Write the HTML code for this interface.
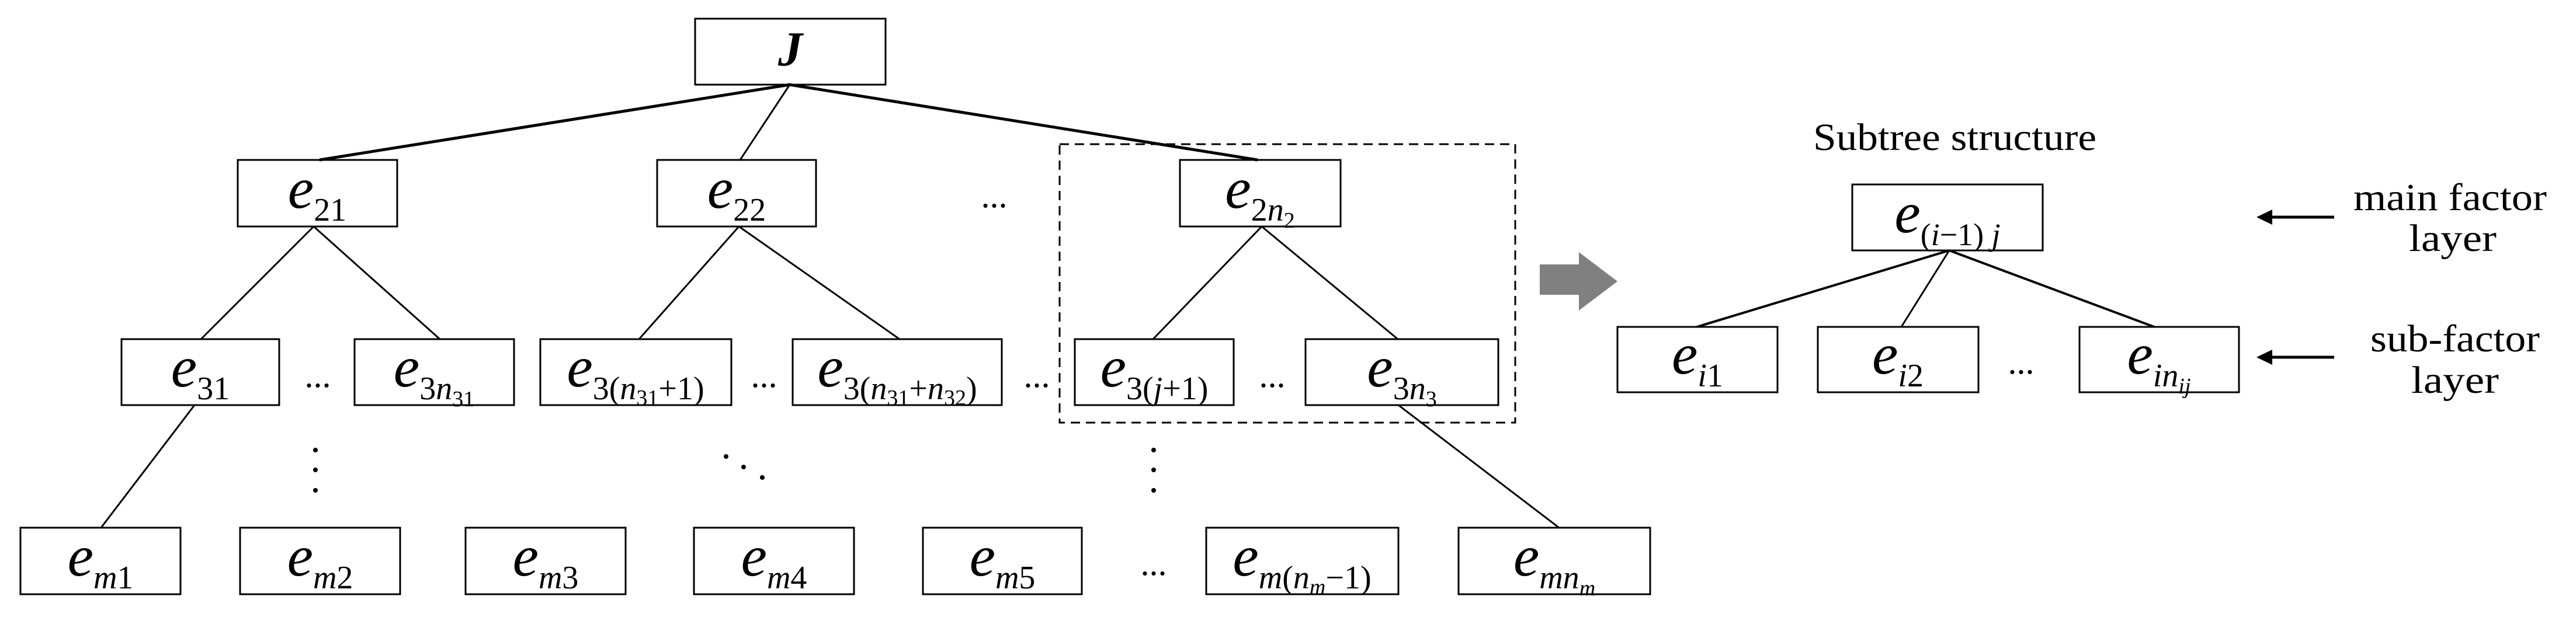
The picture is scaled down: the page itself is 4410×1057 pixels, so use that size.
<!DOCTYPE html>
<html><head><meta charset="utf-8"><style>
html,body{margin:0;padding:0;background:#fff;}
svg{display:block;}
text{font-family:"Liberation Serif",serif;fill:#000;}
.i{font-style:italic;}
</style></head><body>
<svg width="4410" height="1057" viewBox="0 0 4410 1057" xmlns="http://www.w3.org/2000/svg">
<g fill="none" stroke="#000" stroke-width="3">
<rect x="1190" y="32" width="326" height="113"/>
<rect x="407" y="274" width="273" height="114"/>
<rect x="1125" y="274" width="272" height="114"/>
<rect x="2020" y="274" width="275" height="114"/>
<rect x="208" y="581" width="270" height="113"/>
<rect x="607" y="581" width="273" height="113"/>
<rect x="925" y="581" width="327" height="113"/>
<rect x="1357" y="581" width="358" height="113"/>
<rect x="1840" y="581" width="272" height="113"/>
<rect x="2235" y="581" width="330" height="113"/>
<rect x="35" y="904" width="274" height="114"/>
<rect x="411" y="904" width="274" height="114"/>
<rect x="797" y="904" width="274" height="114"/>
<rect x="1188" y="904" width="274" height="114"/>
<rect x="1580" y="904" width="272" height="114"/>
<rect x="2065" y="904" width="329" height="114"/>
<rect x="2497" y="904" width="328" height="114"/>
<rect x="3171" y="316" width="326" height="113"/>
<rect x="2769" y="560" width="274" height="112"/>
<rect x="3112" y="560" width="275" height="112"/>
<rect x="3560" y="560" width="273" height="112"/>
<rect x="1814" y="247" width="780" height="477" stroke-dasharray="16,10"/>
<line x1="1352" y1="145" x2="547" y2="274" stroke-width="5"/>
<line x1="1352" y1="145" x2="1267" y2="274"/>
<line x1="1352" y1="145" x2="2153" y2="274" stroke-width="5"/>
<line x1="537" y1="388" x2="344" y2="581"/>
<line x1="537" y1="388" x2="753" y2="581"/>
<line x1="1265" y1="388" x2="1094" y2="581"/>
<line x1="1265" y1="388" x2="1540" y2="581"/>
<line x1="2160" y1="388" x2="1974" y2="581"/>
<line x1="2160" y1="388" x2="2393" y2="581"/>
<line x1="333" y1="694" x2="173" y2="904"/>
<line x1="2394" y1="694" x2="2669" y2="904"/>
<line x1="3337" y1="429" x2="2905" y2="560" stroke-width="4"/>
<line x1="3337" y1="429" x2="3255" y2="560"/>
<line x1="3337" y1="429" x2="3688" y2="560" stroke-width="4"/>
<line x1="3996" y1="372" x2="3880" y2="372" stroke-width="5"/>
<line x1="3996" y1="612" x2="3880" y2="612" stroke-width="5"/>
</g>
<polygon points="3863,372 3890,359 3890,385" fill="#000"/>
<polygon points="3863,612 3890,599 3890,625" fill="#000"/>
<polygon points="2636,453 2703,453 2703,432 2769,482 2703,532 2703,505 2636,505" fill="#808080"/>
<g fill="#000">
<circle cx="540" cy="771" r="4"/><circle cx="540" cy="805" r="4"/><circle cx="540" cy="840" r="4"/>
<circle cx="1975" cy="771" r="4"/><circle cx="1975" cy="805" r="4"/><circle cx="1975" cy="840" r="4"/>
<circle cx="1243" cy="782" r="4"/><circle cx="1273" cy="800" r="4"/><circle cx="1305" cy="818" r="4"/>
</g>
<g font-size="60" text-anchor="middle">
<text x="1702" y="355">...</text>
<text x="544" y="663">...</text>
<text x="1308" y="663">...</text>
<text x="1775" y="663">...</text>
<text x="2178" y="663">...</text>
<text x="1975" y="985">...</text>
<text x="3460" y="640">...</text>
</g>
<text x="1353" y="112" font-size="84" font-weight="bold" class="i" text-anchor="middle">J</text>
<g text-anchor="middle">
<text x="543" y="356"><tspan class="i" font-size="100">e</tspan><tspan font-size="56" dy="22">21</tspan></text>
<text x="1261" y="356"><tspan class="i" font-size="100">e</tspan><tspan font-size="56" dy="22">22</tspan></text>
<text x="2157" y="356"><tspan class="i" font-size="100">e</tspan><tspan font-size="56" dy="22">2</tspan><tspan font-size="56" class="i">n</tspan><tspan font-size="38" dy="12">2</tspan></text>
<text x="343" y="662"><tspan class="i" font-size="100">e</tspan><tspan font-size="56" dy="22">31</tspan></text>
<text x="743" y="662"><tspan class="i" font-size="100">e</tspan><tspan font-size="56" dy="22">3</tspan><tspan font-size="56" class="i">n</tspan><tspan font-size="38" dy="12">31</tspan></text>
<text x="1088" y="662"><tspan class="i" font-size="100">e</tspan><tspan font-size="56" dy="22">3(</tspan><tspan font-size="56" class="i">n</tspan><tspan font-size="38" dy="10">31</tspan><tspan font-size="56" dy="-10">+1)</tspan></text>
<text x="1536" y="662"><tspan class="i" font-size="100">e</tspan><tspan font-size="56" dy="22">3(</tspan><tspan font-size="56" class="i">n</tspan><tspan font-size="38" dy="10">31</tspan><tspan font-size="56" dy="-10">+</tspan><tspan font-size="56" class="i">n</tspan><tspan font-size="38" dy="10">32</tspan><tspan font-size="56" dy="-10">)</tspan></text>
<text x="1976" y="662"><tspan class="i" font-size="100">e</tspan><tspan font-size="56" dy="22">3(</tspan><tspan font-size="56" class="i">j</tspan><tspan font-size="56">+1)</tspan></text>
<text x="2400" y="662"><tspan class="i" font-size="100">e</tspan><tspan font-size="56" dy="22">3</tspan><tspan font-size="56" class="i">n</tspan><tspan font-size="38" dy="12">3</tspan></text>
<text x="172" y="986"><tspan class="i" font-size="100">e</tspan><tspan font-size="56" dy="22" class="i">m</tspan><tspan font-size="56">1</tspan></text>
<text x="548" y="986"><tspan class="i" font-size="100">e</tspan><tspan font-size="56" dy="22" class="i">m</tspan><tspan font-size="56">2</tspan></text>
<text x="934" y="986"><tspan class="i" font-size="100">e</tspan><tspan font-size="56" dy="22" class="i">m</tspan><tspan font-size="56">3</tspan></text>
<text x="1325" y="986"><tspan class="i" font-size="100">e</tspan><tspan font-size="56" dy="22" class="i">m</tspan><tspan font-size="56">4</tspan></text>
<text x="1716" y="986"><tspan class="i" font-size="100">e</tspan><tspan font-size="56" dy="22" class="i">m</tspan><tspan font-size="56">5</tspan></text>
<text x="2229" y="986"><tspan class="i" font-size="100">e</tspan><tspan font-size="56" dy="22" class="i">m</tspan><tspan font-size="56">(</tspan><tspan font-size="56" class="i">n</tspan><tspan font-size="38" dy="10" class="i">m</tspan><tspan font-size="56" dy="-10">−1)</tspan></text>
<text x="2661" y="986"><tspan class="i" font-size="100">e</tspan><tspan font-size="56" dy="22" class="i">mn</tspan><tspan font-size="38" dy="12" class="i">m</tspan></text>
<text x="3334" y="398"><tspan class="i" font-size="100">e</tspan><tspan font-size="54" dy="22">(</tspan><tspan font-size="54" class="i">i</tspan><tspan font-size="54">−1) </tspan><tspan font-size="54" class="i">j</tspan></text>
<text x="2906" y="640"><tspan class="i" font-size="100">e</tspan><tspan font-size="56" dy="22" class="i">i</tspan><tspan font-size="56">1</tspan></text>
<text x="3249" y="640"><tspan class="i" font-size="100">e</tspan><tspan font-size="56" dy="22" class="i">i</tspan><tspan font-size="56">2</tspan></text>
<text x="3696" y="640"><tspan class="i" font-size="100">e</tspan><tspan font-size="56" dy="22" class="i">in</tspan><tspan font-size="38" dy="12" class="i">ij</tspan></text>
</g>
<g font-size="66">
<text x="3104" y="257" textLength="485" lengthAdjust="spacingAndGlyphs">Subtree structure</text>
<text x="4029" y="360" textLength="331" lengthAdjust="spacingAndGlyphs">main factor</text>
<text x="4124" y="430" textLength="150" lengthAdjust="spacingAndGlyphs">layer</text>
<text x="4058" y="602" textLength="290" lengthAdjust="spacingAndGlyphs">sub-factor</text>
<text x="4128" y="673" textLength="150" lengthAdjust="spacingAndGlyphs">layer</text>
</g>
</svg>
</body></html>
